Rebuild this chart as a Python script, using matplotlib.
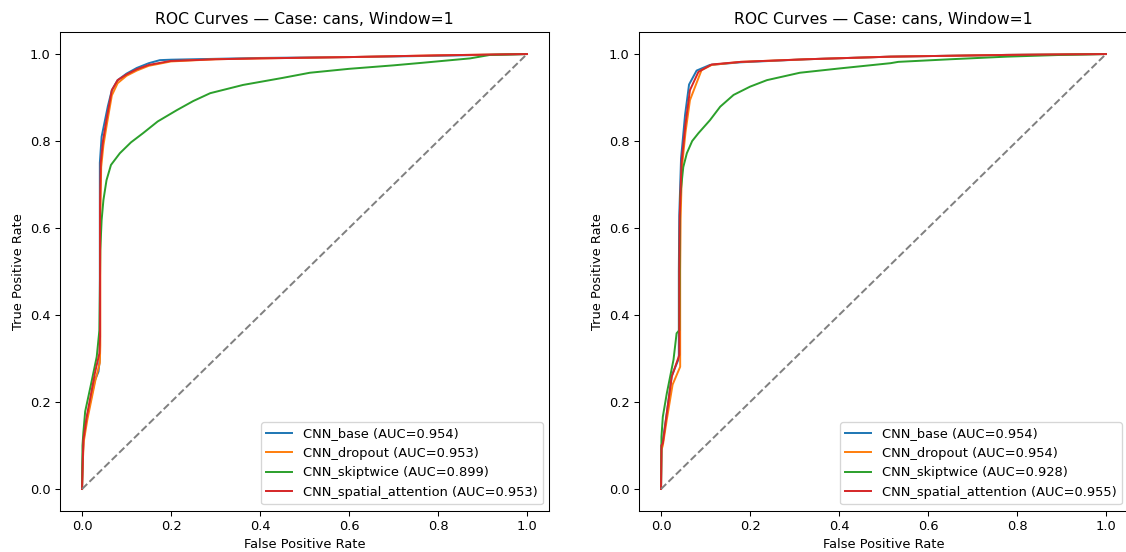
import matplotlib
matplotlib.use('Agg')
from matplotlib import pyplot as plt

# ROC points, case "cans", window 1
models = ['CNN_base', 'CNN_dropout', 'CNN_skiptwice', 'CNN_spatial_attention']
colors = ['tab:blue', 'tab:orange', 'tab:green', 'tab:red']

# left panel
left_auc = [0.954, 0.953, 0.899, 0.953]
left_fpr_base = [0, 0.001, 0.003, 0.010, 0.029, 0.037, 0.040, 0.040, 0.040, 0.044, 0.052, 0.058,
                 0.067, 0.080, 0.100, 0.123, 0.150, 0.175, 0.200, 0.300, 0.400, 0.600, 0.800, 0.900, 1.0]
left_tpr_base = [0, 0.05, 0.11, 0.16, 0.25, 0.27, 0.30, 0.60, 0.75, 0.81, 0.85, 0.88,
                 0.917, 0.940, 0.955, 0.968, 0.979, 0.986, 0.987, 0.989, 0.991, 0.993, 0.996, 0.998, 1.0]
left_fpr_dropout = [0, 0.002, 0.004, 0.012, 0.030, 0.040, 0.041, 0.041, 0.043, 0.048, 0.056, 0.067,
                    0.080, 0.100, 0.123, 0.150, 0.200, 0.300, 0.400, 0.600, 0.800, 1.0]
left_tpr_dropout = [0, 0.07, 0.11, 0.16, 0.25, 0.29, 0.33, 0.62, 0.74, 0.79, 0.84, 0.905,
                    0.933, 0.950, 0.962, 0.973, 0.983, 0.988, 0.990, 0.993, 0.997, 1.0]
left_fpr_skip = [0, 0.001, 0.003, 0.007, 0.020, 0.033, 0.039, 0.040, 0.041, 0.044, 0.048, 0.055,
                 0.065, 0.085, 0.110, 0.137, 0.170, 0.213, 0.250, 0.288, 0.362, 0.450, 0.512,
                 0.600, 0.700, 0.766, 0.872, 0.917, 1.0]
left_tpr_skip = [0, 0.10, 0.13, 0.178, 0.24, 0.304, 0.365, 0.45, 0.55, 0.618, 0.664, 0.71,
                 0.745, 0.772, 0.797, 0.818, 0.845, 0.871, 0.892, 0.910, 0.929, 0.945, 0.957,
                 0.966, 0.974, 0.980, 0.990, 0.998, 1.0]
left_fpr_att = [0, 0.002, 0.003, 0.0105, 0.029, 0.039, 0.0405, 0.0405, 0.042, 0.047, 0.055, 0.067,
                0.080, 0.100, 0.123, 0.150, 0.198, 0.300, 0.400, 0.600, 0.800, 1.0]
left_tpr_att = [0, 0.08, 0.113, 0.166, 0.267, 0.312, 0.35, 0.65, 0.75, 0.80, 0.85, 0.917,
                0.940, 0.953, 0.965, 0.975, 0.984, 0.988, 0.990, 0.993, 0.997, 1.0]

# right panel
right_auc = [0.954, 0.954, 0.928, 0.955]
right_fpr_base = [0, 0.001, 0.004, 0.013, 0.024, 0.040, 0.040, 0.041, 0.045, 0.054, 0.063, 0.080,
                  0.110, 0.179, 0.327, 0.516, 0.777, 1.0]
right_tpr_base = [0, 0.10, 0.11, 0.175, 0.26, 0.30, 0.50, 0.63, 0.76, 0.86, 0.93, 0.962,
                  0.975, 0.981, 0.988, 0.994, 0.998, 1.0]
right_fpr_dropout = [0, 0.001, 0.004, 0.013, 0.026, 0.043, 0.043, 0.044, 0.047, 0.055, 0.065, 0.091,
                     0.114, 0.179, 0.327, 0.516, 0.777, 1.0]
right_tpr_dropout = [0, 0.09, 0.10, 0.16, 0.24, 0.281, 0.50, 0.62, 0.74, 0.82, 0.894, 0.963,
                     0.975, 0.982, 0.988, 0.994, 0.998, 1.0]
right_fpr_skip = [0, 0.001, 0.004, 0.013, 0.028, 0.035, 0.041, 0.042, 0.043, 0.050, 0.058, 0.070,
                  0.084, 0.110, 0.133, 0.163, 0.200, 0.238, 0.312, 0.402, 0.516, 0.533, 0.650,
                  0.777, 0.900, 1.0]
right_tpr_skip = [0, 0.12, 0.166, 0.22, 0.297, 0.358, 0.365, 0.55, 0.672, 0.74, 0.772, 0.80,
                  0.818, 0.848, 0.879, 0.906, 0.925, 0.940, 0.957, 0.967, 0.979, 0.982, 0.988,
                  0.994, 0.998, 1.0]
right_fpr_att = [0, 0.001, 0.004, 0.013, 0.024, 0.041, 0.041, 0.042, 0.046, 0.055, 0.065, 0.084,
                 0.114, 0.179, 0.327, 0.516, 0.777, 1.0]
right_tpr_att = [0, 0.10, 0.105, 0.174, 0.258, 0.308, 0.50, 0.626, 0.749, 0.84, 0.917, 0.959,
                 0.976, 0.982, 0.988, 0.994, 0.998, 1.0]

left_curves = [(left_fpr_base, left_tpr_base), (left_fpr_dropout, left_tpr_dropout),
               (left_fpr_skip, left_tpr_skip), (left_fpr_att, left_tpr_att)]
right_curves = [(right_fpr_base, right_tpr_base), (right_fpr_dropout, right_tpr_dropout),
                (right_fpr_skip, right_tpr_skip), (right_fpr_att, right_tpr_att)]

DPI = 94
fig = plt.figure(figsize=(1126 / DPI, 552 / DPI), dpi=DPI)
ax_left = fig.add_axes([0.0531, 0.0747, 0.4347, 0.8668])
ax_right = fig.add_axes([0.5673, 0.0747, 0.4347, 0.8668])


def plot_panel(ax, curves, aucs):
    for name, color, (fpr, tpr), auc in zip(models, colors, curves, aucs):
        ax.plot(fpr, tpr, color=color, label=f'{name} (AUC={auc:.3f})')
    ax.plot([0, 1], [0, 1], color='gray', linestyle='--')
    ax.set_title('ROC Curves — Case: cans, Window=1')
    ax.set_xlabel('False Positive Rate')
    ax.set_ylabel('True Positive Rate')
    ax.legend(loc='lower right')


plot_panel(ax_left, left_curves, left_auc)
plot_panel(ax_right, right_curves, right_auc)

fig.savefig('out.png', dpi=DPI)
